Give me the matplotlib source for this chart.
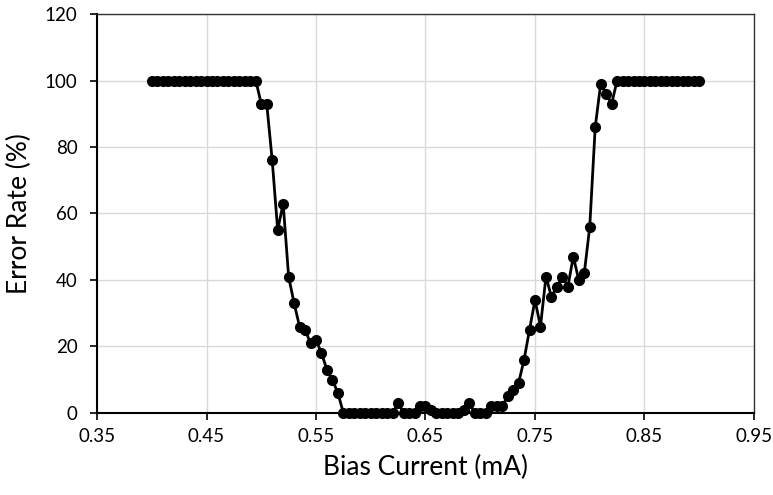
# Error rate vs bias current sweep

import matplotlib.pyplot as plt

bias_current = [
    0.400, 0.405, 0.410, 0.415, 0.420, 0.425, 0.430, 0.435, 0.440, 0.445,
    0.450, 0.455, 0.460, 0.465, 0.470, 0.475, 0.480, 0.485, 0.490, 0.495,
    0.500, 0.505, 0.510, 0.515, 0.520, 0.525, 0.530, 0.535, 0.540, 0.545,
    0.550, 0.555, 0.560, 0.565, 0.570, 0.575, 0.580, 0.585, 0.590, 0.595,
    0.600, 0.605, 0.610, 0.615, 0.620, 0.625, 0.630, 0.635, 0.640, 0.645,
    0.650, 0.655, 0.660, 0.665, 0.670, 0.675, 0.680, 0.685, 0.690, 0.695,
    0.700, 0.705, 0.710, 0.715, 0.720, 0.725, 0.730, 0.735, 0.740, 0.745,
    0.750, 0.755, 0.760, 0.765, 0.770, 0.775, 0.780, 0.785, 0.790, 0.795,
    0.800, 0.805, 0.810, 0.815, 0.820, 0.825, 0.830, 0.835, 0.840, 0.845,
    0.850, 0.855, 0.860, 0.865, 0.870, 0.875, 0.880, 0.885, 0.890, 0.895,
    0.900,
]

error_rate = [
    100, 100, 100, 100, 100, 100, 100, 100, 100, 100,
    100, 100, 100, 100, 100, 100, 100, 100, 100, 100,
    93, 93, 76, 55, 63, 41, 33, 26, 25, 21,
    22, 18, 13, 10, 6, 0, 0, 0, 0, 0,
    0, 0, 0, 0, 0, 3, 0, 0, 0, 2,
    2, 1, 0, 0, 0, 0, 0, 1, 3, 0,
    0, 0, 2, 2, 2, 5, 7, 9, 16, 25,
    34, 26, 41, 35, 38, 41, 38, 47, 40, 42,
    56, 86, 99, 96, 93, 100, 100, 100, 100, 100,
    100, 100, 100, 100, 100, 100, 100, 100, 100, 100,
    100,
]

x_ticks = [0.35, 0.45, 0.55, 0.65, 0.75, 0.85, 0.95]
y_ticks = [0, 20, 40, 60, 80, 100, 120]

plt.rcParams['font.family'] = ['Lato', 'DejaVu Sans']

fig = plt.figure(figsize=(7.73, 4.95), dpi=100)
ax = fig.add_axes([0.1255, 0.1657, 0.8499, 0.806])

ax.plot(bias_current, error_rate, color='black', linewidth=2.0,
        marker='o', markersize=7, zorder=3, clip_on=False)

ax.set_xlim(0.35, 0.95)
ax.set_ylim(0, 120)
ax.set_xticks(x_ticks)
ax.set_xticklabels([f'{t:.2f}' for t in x_ticks])
ax.set_yticks(y_ticks)

ax.grid(True, color='#d9d9d9', linewidth=1.0)
ax.set_axisbelow(True)

for side in ['left', 'bottom']:
    ax.spines[side].set_linewidth(1.5)
    ax.spines[side].set_color('black')
for side in ['top', 'right']:
    ax.spines[side].set_linewidth(1.0)
    ax.spines[side].set_color('#333333')

ax.tick_params(direction='out', length=5, width=1.2, labelsize=13.5)
ax.tick_params(axis='x', pad=6)
ax.tick_params(axis='y', pad=9)
ax.set_xlabel('Bias Current (mA)', fontsize=19, labelpad=7)
ax.set_ylabel('Error Rate (%)', fontsize=19, labelpad=9)

fig.savefig('out.png', dpi=100)
